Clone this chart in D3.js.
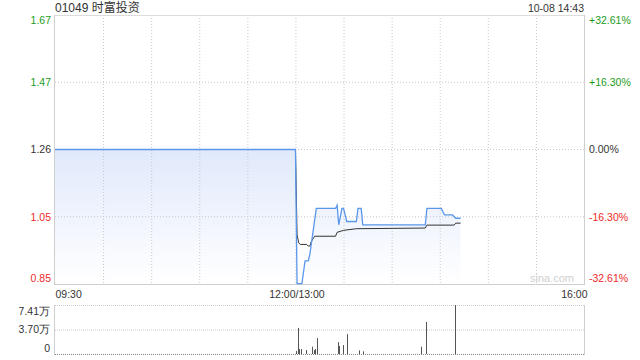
<!DOCTYPE html>
<html><head><meta charset="utf-8">
<script src="https://cdn.jsdelivr.net/npm/d3@7"></script>
<style>
body{margin:0;background:#fff;}
svg{display:block;font-family:"Liberation Sans",Arial,"Noto Sans CJK SC",sans-serif;}
</style></head>
<body><svg id="c" width="640" height="360"></svg>
<script>
// ---- data ----
const title = "01049 时富投资";
const stamp = "10-08 14:43";
const prevClose = 1.26;
const rangePct = 0.3261;
const priceTickLabels = ["1.67","1.47","1.26","1.05","0.85"];
const pctTickLabels = ["+32.61%","+16.30%","0.00%","-16.30%","-32.61%"];
const timeTickLabels = ["09:30","12:00/13:00","16:00"];
const timeTickTimes = ["09:30","13:00","16:00"];

const priceTimes = ["09:30","13:00","13:01","13:04","13:06","13:08","13:09","13:13","13:25","13:26","13:27","13:29","13:30","13:32","13:38","13:39","13:41","13:42","14:21","14:22","14:31","14:33","14:38","14:40","14:43"];
const priceValues = [1.26,1.26,0.85,0.85,0.92,0.92,0.94,1.08,1.08,1.09,1.03,1.08,1.08,1.04,1.04,1.08,1.08,1.03,1.03,1.08,1.08,1.06,1.06,1.05,1.05];

const avgTimes = ["09:30","13:00","13:01","13:02","13:03","13:07","13:08","13:09","13:10","13:12","13:25","13:26","13:30","13:38","14:21","14:22","14:39","14:40","14:43"];
const avgValues = [1.26,1.26,1.00,0.975,0.97,0.97,0.965,0.965,0.98,0.995,0.995,1.007,1.013,1.018,1.020,1.029,1.029,1.035,1.035];

const volTimes = ["13:01","13:02","13:03","13:04","13:07","13:11","13:12","13:13","13:14","13:27","13:28","13:30","13:33","13:40","13:43","14:19","14:22","14:40"];
const volValues = [0.45,3.95,0.75,0.75,0.6,1.1,0.6,0.75,2.4,1.8,1.2,1.35,3.0,0.55,0.4,1.1,4.84,7.41]; // 万
const volMax = 7.41;
const volTickValues = [0, 3.70, 7.41];
const volTickLabels = ["0","3.70万","7.41万"];

// ---- helpers ----
function tIdx(s){
  const [h,m] = s.split(":").map(Number);
  const mm = h*60+m;
  if (mm <= 12*60) return mm - (9*60+30);
  return 150 + (mm - 13*60);
}

const svg = d3.select("#c");
const L = 55, R = 584, T = 15, B = 284;
const VT = 305, VB = 354;
const x = d3.scaleLinear().domain([0,330]).range([L,R]);
const y = d3.scaleLinear().domain([prevClose*(1-rangePct), prevClose*(1+rangePct)]).range([B,T]);
const yv = d3.scaleLinear().domain([0, volMax]).range([VB,VT]);

const green = "#1c9c1c", red = "#ee2a2a", dark = "#333";
const tickColor = i => i < 2 ? green : (i === 2 ? dark : red);
const tickVals = [2,1,0,-1,-2].map(k => prevClose*(1 + rangePct*k/2));

// gradient
const defs = svg.append("defs");
const g = defs.append("linearGradient").attr("id","fillg").attr("gradientUnits","userSpaceOnUse")
  .attr("x1",0).attr("x2",0).attr("y1",y(prevClose)).attr("y2",B);
g.append("stop").attr("offset","0").attr("stop-color","#e0e9fb");
g.append("stop").attr("offset","1").attr("stop-color","#ffffff");

const pData = priceTimes.map((t,i)=>({i:tIdx(t), v:priceValues[i]}));
const aData = avgTimes.map((t,i)=>({i:tIdx(t), v:avgValues[i]}));

// area
svg.append("path").datum(pData)
  .attr("d", d3.area().x(d=>x(d.i)).y0(B).y1(d=>y(d.v)))
  .attr("fill","url(#fillg)");

// gridlines
[1,2,3].forEach(k=>{
  svg.append("line").attr("x1",L).attr("x2",R).attr("y1",y(tickVals[k])).attr("y2",y(tickVals[k]))
    .attr("stroke","#c8c8c8").attr("stroke-dasharray","1,2");
});
d3.range(30,330,30).forEach(t=>{
  svg.append("line").attr("x1",x(t)+0.5).attr("x2",x(t)+0.5).attr("y1",T).attr("y2",B)
    .attr("stroke","#c8c8c8").attr("stroke-dasharray","1,2");
});
// borders
svg.append("line").attr("x1",L).attr("x2",R).attr("y1",T+0.5).attr("y2",T+0.5).attr("stroke","#dcdcdc");
svg.append("line").attr("x1",L).attr("x2",R+0.5).attr("y1",B+0.5).attr("y2",B+0.5).attr("stroke","#cfcfcf");
svg.append("line").attr("x1",L-0.5).attr("x2",L-0.5).attr("y1",T).attr("y2",B+1).attr("stroke","#cfcfcf");
svg.append("line").attr("x1",R+0.5).attr("x2",R+0.5).attr("y1",T).attr("y2",B+1).attr("stroke","#cfcfcf");

// watermark
svg.append("text").attr("x",574).attr("y",282).attr("text-anchor","end")
  .attr("font-size",11).attr("fill","#d0d0d0").text("sina.com");

// lines
const line = d3.line().x(d=>x(d.i)).y(d=>y(d.v));
svg.append("path").datum(aData).attr("d",line).attr("fill","none").attr("stroke","#333").attr("stroke-width",1);
svg.append("path").datum(pData).attr("d",line).attr("fill","none").attr("stroke","#5a97ec").attr("stroke-width",1.3);

// title and stamp
svg.append("text").attr("x",L).attr("y",11.5).attr("font-size",12).attr("fill",dark).text(title);
svg.append("text").attr("x",R).attr("y",11.5).attr("text-anchor","end").attr("font-size",10.5).attr("fill",dark).text(stamp);

// left axis
const la = svg.append("g").attr("transform",`translate(${L},0)`)
  .call(d3.axisLeft(y).tickValues(tickVals).tickFormat((d,i)=>priceTickLabels[i]).tickSize(0).tickPadding(4));
la.select(".domain").remove();
la.selectAll("text").attr("font-size",10.5).attr("font-family",null)
  .attr("fill",(d,i)=>tickColor(i))
  .attr("dy",(d,i)=> i===0 ? "0.85em" : (i===4 ? "-0.2em" : "0.32em"));
// right axis
const ra = svg.append("g").attr("transform",`translate(${R},0)`)
  .call(d3.axisRight(y).tickValues(tickVals).tickFormat((d,i)=>pctTickLabels[i]).tickSize(0).tickPadding(5));
ra.select(".domain").remove();
ra.selectAll("text").attr("font-size",10.5).attr("font-family",null)
  .attr("fill",(d,i)=>tickColor(i))
  .attr("dy",(d,i)=> i===0 ? "0.85em" : (i===4 ? "-0.2em" : "0.32em"));

// time axis
const ta = svg.append("g").attr("transform",`translate(0,${B})`)
  .call(d3.axisBottom(x).tickValues(timeTickTimes.map(tIdx)).tickFormat((d,i)=>timeTickLabels[i]).tickSize(0).tickPadding(7));
ta.select(".domain").remove();
ta.selectAll("text").attr("font-size",10.5).attr("font-family",null).attr("fill",dark)
  .attr("text-anchor",(d,i)=> i===0 ? "start" : (i===2 ? "end" : "middle"))
  .attr("dx",(d,i)=> i===2 ? 3 : (i===1 ? 1 : 0));

// volume panel
svg.append("line").attr("x1",L).attr("x2",R).attr("y1",VT+0.5).attr("y2",VT+0.5).attr("stroke","#c8c8c8").attr("stroke-dasharray","1,1");
svg.append("line").attr("x1",L).attr("x2",R).attr("y1",yv(3.70)+0.5).attr("y2",yv(3.70)+0.5).attr("stroke","#c8c8c8").attr("stroke-dasharray","1,1");
svg.append("line").attr("x1",L-0.5).attr("x2",L-0.5).attr("y1",VT).attr("y2",VB+1).attr("stroke","#cfcfcf");
svg.append("line").attr("x1",R+0.5).attr("x2",R+0.5).attr("y1",VT).attr("y2",VB+1).attr("stroke","#cfcfcf");

svg.append("g").selectAll("rect").data(volTimes.map((t,i)=>({i:tIdx(t), v:volValues[i]}))).join("rect")
  .attr("x",d=>Math.round(x(d.i))-1).attr("width",1)
  .attr("y",d=>yv(d.v)).attr("height",d=>VB-yv(d.v)).attr("fill","#555");
svg.append("line").attr("x1",L).attr("x2",R).attr("y1",VB+0.5).attr("y2",VB+0.5).attr("stroke","#888").attr("stroke-dasharray","1,1");

const va = svg.append("g").attr("transform",`translate(${L},0)`)
  .call(d3.axisLeft(yv).tickValues(volTickValues).tickFormat((d,i)=>volTickLabels[i]).tickSize(0).tickPadding(5));
va.select(".domain").remove();
va.selectAll("text").attr("font-size",10.5).attr("font-family",null).attr("fill",dark)
  .attr("dy",(d,i)=> i===2 ? "0.9em" : (i===0 ? "-0.25em" : "0.32em"));
</script></body></html>
